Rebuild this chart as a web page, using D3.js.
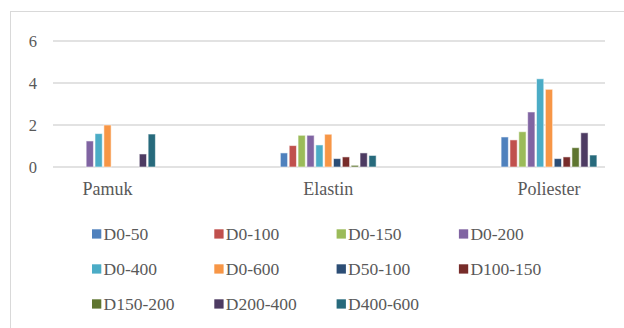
<!DOCTYPE html>
<html>
<head>
<meta charset="utf-8">
<script src="https://cdn.jsdelivr.net/npm/d3@7/dist/d3.min.js"></script>
<style>
  html, body { margin: 0; padding: 0; background: #fff; }
  svg { display: block; }
  svg text { font-family: "Liberation Serif", "Times New Roman", Times, serif; }
</style>
</head>
<body>
<svg id="chart" width="624" height="328"></svg>
<script>
// Fabric types on the category axis
const categories = ["Pamuk", "Elastin", "Poliester"];

// Series names (interval ranges)
const seriesNames = ["D0-50", "D0-100", "D0-150", "D0-200", "D0-400", "D0-600",
                     "D50-100", "D100-150", "D150-200", "D200-400", "D400-600"];

// Values per series, one per category (Pamuk, Elastin, Poliester)
const D0_50    = [0,    0.67, 1.43];
const D0_100   = [0,    1.02, 1.29];
const D0_150   = [0,    1.51, 1.68];
const D0_200   = [1.24, 1.51, 2.62];
const D0_400   = [1.59, 1.05, 4.20];
const D0_600   = [2.00, 1.56, 3.70];
const D50_100  = [0,    0.40, 0.40];
const D100_150 = [0,    0.48, 0.48];
const D150_200 = [0,    0.08, 0.92];
const D200_400 = [0.62, 0.67, 1.63];
const D400_600 = [1.57, 0.55, 0.57];

const seriesValues = [D0_50, D0_100, D0_150, D0_200, D0_400, D0_600,
                      D50_100, D100_150, D150_200, D200_400, D400_600];

const yTicks = [0, 2, 4, 6];

const colors = ["#4F81BD", "#C0504D", "#9BBB59", "#8064A2", "#4BACC6", "#F79646",
                "#2C4D75", "#772C2A", "#5F7530", "#4D3B62", "#276A7C"];

const textColor = "#595959";

const svg = d3.select("#chart");

// Outer chart frame
svg.append("rect")
  .attr("x", 10.5).attr("y", 11.5)
  .attr("width", 640).attr("height", 340)
  .attr("fill", "none").attr("stroke", "#d9d9d9").attr("stroke-width", 1);

const plotLeft = 53, plotRight = 605;

const y = d3.scaleLinear().domain([0, 6]).range([167, 41]);

// Category centres
const x = d3.scalePoint().domain(categories).range([107.5, 549]);

// Series offsets inside a cluster
const xs = d3.scaleBand().domain(seriesNames).range([-48.7, 48.7]).paddingInner(0);

// Gridlines
svg.append("g").selectAll("line")
  .data(yTicks)
  .join("line")
  .attr("x1", plotLeft).attr("x2", plotRight)
  .attr("y1", d => y(d)).attr("y2", d => y(d))
  .attr("stroke", "#d9d9d9").attr("stroke-width", 1.5);

// Y tick labels
svg.append("g").selectAll("text")
  .data(yTicks)
  .join("text")
  .attr("x", 37).attr("y", d => y(d))
  .attr("dy", "0.35em")
  .attr("text-anchor", "end")
  .attr("font-size", 16.5)
  .attr("fill", textColor)
  .text(d => d);

// Bars
const bw = xs.bandwidth();
seriesNames.forEach((name, si) => {
  svg.append("g").selectAll("rect")
    .data(categories.map((c, ci) => ({ c, v: seriesValues[si][ci] })))
    .join("rect")
    .attr("x", d => x(d.c) + xs(name) + 0.8)
    .attr("width", bw - 1.6)
    .attr("y", d => y(d.v))
    .attr("height", d => y(0) - y(d.v))
    .attr("fill", colors[si])
    .attr("stroke", d => d.v > 0 ? "rgba(255,255,255,0.55)" : "none")
    .attr("stroke-width", 1);
});

// Category labels
svg.append("g").selectAll("text")
  .data(categories)
  .join("text")
  .attr("x", d => x(d)).attr("y", 194.5)
  .attr("text-anchor", "middle")
  .attr("font-size", 18)
  .attr("fill", textColor)
  .text(d => d);

// Legend
const legend = svg.append("g");
const colStep = 122.3, rowStep = 35;
seriesNames.forEach((name, i) => {
  const col = i % 4, row = Math.floor(i / 4);
  const gx = 92 + col * colStep, gy = 234 + row * rowStep;
  const g = legend.append("g").attr("transform", `translate(${gx},${gy})`);
  g.append("rect").attr("x", 0).attr("y", -4.7).attr("width", 9.3).attr("height", 9.3)
    .attr("fill", colors[i]);
  g.append("text").attr("x", 11.5).attr("y", 0).attr("dy", "0.35em")
    .attr("font-size", 17.5)
    .attr("fill", textColor)
    .text(name);
});
</script>
</body>
</html>
